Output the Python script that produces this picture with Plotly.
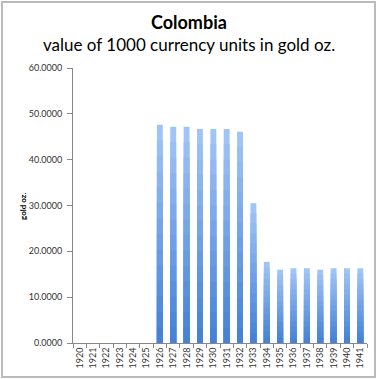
import plotly.graph_objects as go

years = [str(y) for y in range(1920, 1942)]
values = [None, None, None, None, None, None,
          47.6, 47.2, 47.2, 46.7, 46.7, 46.7, 46.1, 30.5,
          17.7, 16.0, 16.3, 16.3, 16.0, 16.3, 16.3, 16.3]
y_ticks = [0, 10, 20, 30, 40, 50, 60]

L, R, T, B = 73, 11, 68, 36
W, H = 378, 379
PW, PH = W - L - R, H - T - B


def px(xp):
    return (xp - L) / PW


def py(yp):
    return (H - B - yp) / PH


# gradient effect: overlay layers, light at top, dark at bottom
light = (160, 196, 247)
dark = (70, 130, 214)
n = 14
fig = go.Figure()
for i in range(n):
    f = 1 - i / n
    t = i / (n - 1)
    c = tuple(int(light[k] + (dark[k] - light[k]) * t) for k in range(3))
    fig.add_trace(go.Bar(
        x=years,
        y=[v * f if v is not None else None for v in values],
        marker=dict(color="rgb(%d,%d,%d)" % c, line=dict(width=0)),
        showlegend=False,
    ))

fig.update_layout(
    barmode="overlay",
    bargap=0.56,
    width=W, height=H,
    margin=dict(l=L, r=R, t=T, b=B, autoexpand=False),
    paper_bgcolor="white", plot_bgcolor="white",
    font=dict(family="Lato, Open Sans, sans-serif", color="#222"),
    xaxis=dict(
        type="category", automargin=False,
        tickangle=-90,
        tickfont=dict(size=9, family="Lato, sans-serif", color="#333"),
        showline=True, linecolor="#888", linewidth=1,
        ticks="outside", ticklen=4, tickcolor="#888",
        tickson="boundaries",
        showgrid=False,
    ),
    yaxis=dict(
        range=[0, 60], automargin=False,
        tickvals=y_ticks,
        tickformat=".4f",
        tickfont=dict(size=9, family="Lato, sans-serif", color="#333"),
        showline=True, linecolor="#888", linewidth=1,
        ticks="outside", ticklen=5, tickcolor="#888",
        ticklabelstandoff=3,
        showgrid=False, zeroline=False,
    ),
    annotations=[
        dict(text="<b>Colombia</b>", xref="paper", yref="paper",
             x=px(W / 2), y=py(22), showarrow=False, xanchor="center", yanchor="middle",
             font=dict(size=18, color="black")),
        dict(text="value of 1000 currency units in gold oz.", xref="paper", yref="paper",
             x=px(W / 2), y=py(45), showarrow=False, xanchor="center", yanchor="middle",
             font=dict(size=17, color="black")),
        dict(text="<b>gold oz.</b>", xref="paper", yref="paper",
             x=px(23), y=py(207), showarrow=False, xanchor="center", yanchor="middle",
             textangle=-90, font=dict(size=8, color="black")),
    ],
    shapes=[dict(
        type="rect", xref="paper", yref="paper",
        x0=px(2), x1=px(375), y0=py(377), y1=py(2),
        line=dict(color="#bbbbbb", width=2), fillcolor="rgba(0,0,0,0)", layer="above",
    )],
)

fig.write_html(
    "out.html",
    config={"displayModeBar": False},
    post_script="document.body.style.margin='0';document.body.style.overflow='hidden';",
)
